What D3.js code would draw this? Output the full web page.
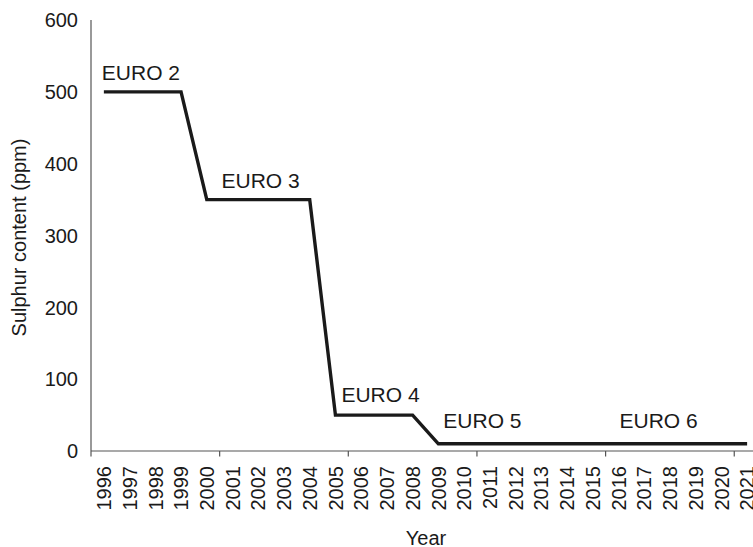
<!DOCTYPE html>
<html>
<head>
<meta charset="utf-8">
<script src="https://cdn.jsdelivr.net/npm/d3@7"></script>
<style>
  html, body { margin: 0; padding: 0; background: #fff; }
  svg { display: block; font-family: "Liberation Sans", Arial, sans-serif; }
</style>
</head>
<body>
<svg id="chart" width="753" height="547"></svg>
<script>
// ---- data ----
const years = [1996,1997,1998,1999,2000,2001,2002,2003,2004,2005,2006,2007,2008,2009,2010,2011,2012,2013,2014,2015,2016,2017,2018,2019,2020,2021];
const sulphur = [500,500,500,500,350,350,350,350,350,50,50,50,50,10,10,10,10,10,10,10,10,10,10,10,10,10];
const yTicks = [0,100,200,300,400,500,600];
const standardLabels = ["EURO 2","EURO 3","EURO 4","EURO 5","EURO 6"];
const standardYears = [1996,2001,2005,2009,2016];
const standardValues = [500,350,50,10,10];

// ---- layout ----
const svg = d3.select("#chart");
const mLeft = 91, mTop = 20, mBottom = 451, step = 25.73;
const x = d3.scaleBand().domain(years).range([mLeft, mLeft + step * years.length]).paddingInner(0).paddingOuter(0);
const y = d3.scaleLinear().domain([0, 600]).range([mBottom, mTop]);
const textColor = "#1a1a1a";
const axisColor = "#555";

// y axis (line only, no ticks)
svg.append("line")
  .attr("x1", mLeft).attr("x2", mLeft).attr("y1", y(600)).attr("y2", mBottom)
  .attr("stroke", axisColor).attr("stroke-width", 1.2);

svg.append("g").selectAll("text").data(yTicks).join("text")
  .attr("x", 78).attr("y", d => y(d)).attr("dy", "0.36em")
  .attr("text-anchor", "end")
  .attr("font-size", 20).attr("fill", textColor)
  .text(d => d);

// x axis
svg.append("line")
  .attr("x1", mLeft).attr("x2", mLeft + step * years.length).attr("y1", mBottom).attr("y2", mBottom)
  .attr("stroke", axisColor).attr("stroke-width", 1.2);

const tickYears = years.filter((d, i) => i % 5 === 0);
svg.append("g").selectAll("line").data(tickYears).join("line")
  .attr("x1", d => x(d)).attr("x2", d => x(d))
  .attr("y1", mBottom).attr("y2", mBottom + 5.5)
  .attr("stroke", axisColor).attr("stroke-width", 1.2);

svg.append("g").selectAll("text").data(years).join("text")
  .attr("transform", d => `translate(${x(d) + x.bandwidth() / 2},${mBottom + 15}) rotate(-90)`)
  .attr("dy", "0.36em")
  .attr("text-anchor", "end")
  .attr("font-size", 20).attr("fill", textColor)
  .text(d => d);

// axis titles
svg.append("text")
  .attr("transform", `translate(18.5,${(mTop + mBottom) / 2 + 2}) rotate(-90)`)
  .attr("dy", "0.36em")
  .attr("text-anchor", "middle")
  .attr("font-size", 20).attr("fill", textColor)
  .text("Sulphur content (ppm)");

svg.append("text")
  .attr("x", 426).attr("y", 545)
  .attr("text-anchor", "middle")
  .attr("font-size", 20).attr("fill", textColor)
  .text("Year");

// line
const line = d3.line()
  .x((d, i) => x(years[i]) + x.bandwidth() / 2)
  .y(d => y(d));
svg.append("path")
  .datum(sulphur)
  .attr("d", line)
  .attr("fill", "none")
  .attr("stroke", "#1a1a1a")
  .attr("stroke-width", 3.4)
  .attr("stroke-linejoin", "miter");

// standard labels
const labelDx = [-2, -11, 6, 5, 1];
const labelDy = [-12, -12, -13, -16, -16];
svg.append("g").selectAll("text").data(standardLabels).join("text")
  .attr("x", (d, i) => x(standardYears[i]) + x.bandwidth() / 2 + labelDx[i])
  .attr("y", (d, i) => y(standardValues[i]) + labelDy[i])
  .attr("text-anchor", "start")
  .attr("font-size", 21).attr("fill", textColor)
  .text(d => d);
</script>
</body>
</html>
